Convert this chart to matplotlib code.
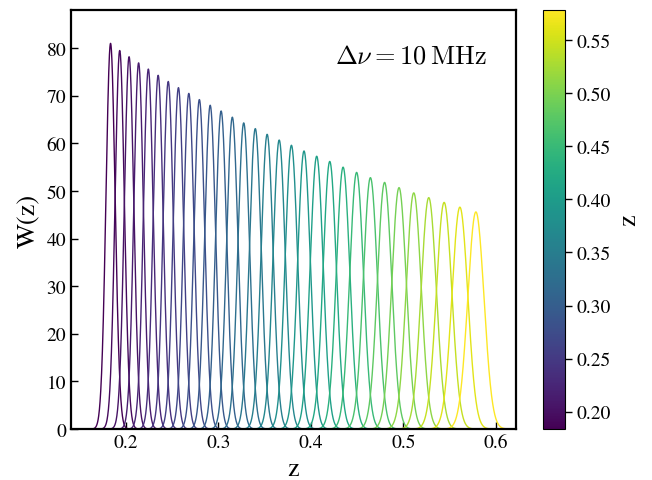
import numpy as np
import matplotlib
matplotlib.use("Agg")
import matplotlib.pyplot as plt
from matplotlib import cm, colors

# ==========================
# Data: peak redshift and peak height of each channel window
# ==========================

z_peak = [0.1837, 0.1936, 0.2037, 0.2140, 0.2245, 0.2351, 0.2460, 0.2570,
          0.2682, 0.2796, 0.2913, 0.3031, 0.3152, 0.3275, 0.3400, 0.3528,
          0.3658, 0.3790, 0.3926, 0.4063, 0.4204, 0.4348, 0.4494, 0.4643,
          0.4796, 0.4952, 0.5111, 0.5273, 0.5439, 0.5609, 0.5782]
w_peak = [81.0, 79.5, 78.2, 76.9, 75.6, 74.3, 73.0, 71.7, 70.5, 69.2,
          68.0, 66.8, 65.5, 64.3, 63.1, 61.9, 60.7, 59.6, 58.4, 57.3,
          56.2, 55.0, 53.9, 52.8, 51.8, 50.7, 49.6, 48.6, 47.6, 46.6, 45.6]
cbar_ticks = [0.20, 0.25, 0.30, 0.35, 0.40, 0.45, 0.50, 0.55]

plt.rcParams['font.family'] = ['STIXGeneral', 'DejaVu Serif']
plt.rcParams['mathtext.fontset'] = 'cm'

fig = plt.figure(figsize=(6.52, 4.81), dpi=100)
ax = fig.add_axes([0.1089, 0.106, 0.6825, 0.871])
cax = fig.add_axes([0.833, 0.106, 0.0337, 0.871])

norm = colors.Normalize(vmin=min(z_peak), vmax=max(z_peak))
cmap = plt.get_cmap("viridis")

z = np.linspace(0.13, 0.63, 4000)
for zc, h in zip(z_peak, w_peak):
    sig = 1.0 / (h * np.sqrt(2 * np.pi))
    w = h * np.exp(-0.5 * ((z - zc) / sig) ** 2)
    ax.plot(z, w, color=cmap(norm(zc)), lw=1.0)

ax.set_xlim(0.141, 0.6215)
ax.set_ylim(0, 88)
ax.set_xticks([0.2, 0.3, 0.4, 0.5, 0.6])
ax.set_xticklabels(["0.2", "0.3", "0.4", "0.5", "0.6"])
ax.set_yticks(range(0, 81, 10))
ax.tick_params(direction="in", length=5, width=1, labelsize=14)
for s in ax.spines.values():
    s.set_linewidth(1.6)

ax.set_xlabel("z", fontsize=19)
ax.set_ylabel("W(z)", fontsize=19)
ax.text(0.935, 0.89, r"$\Delta\nu = 10\,\mathrm{MHz}$", transform=ax.transAxes,
        ha="right", va="center", fontsize=19)

sm = cm.ScalarMappable(norm=norm, cmap=cmap)
cb = fig.colorbar(sm, cax=cax)
cb.set_ticks(cbar_ticks)
cb.set_ticklabels(["%.2f" % t for t in cbar_ticks])
cb.ax.tick_params(labelsize=14, length=5, width=1)
cb.set_label("z", fontsize=19)

fig.savefig("out.png", dpi=100)
